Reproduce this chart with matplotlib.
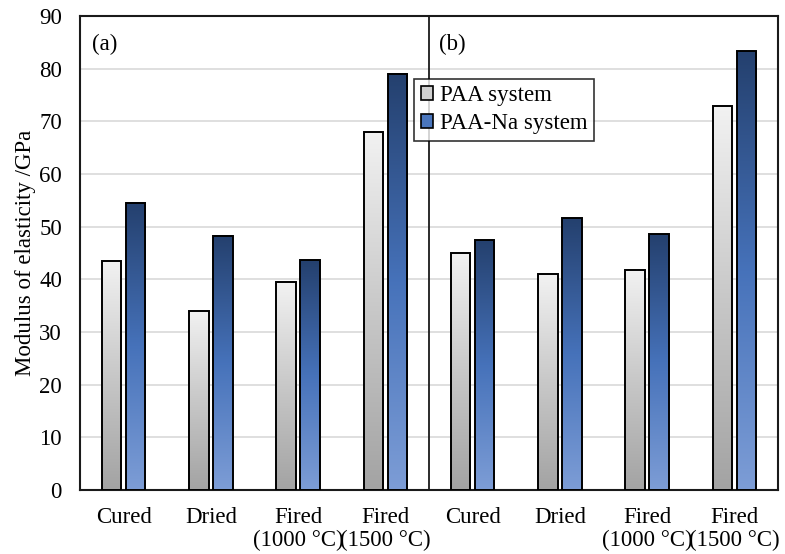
import matplotlib
matplotlib.use("Agg")
import matplotlib.pyplot as plt
import numpy as np
from matplotlib.colors import LinearSegmentedColormap
from matplotlib.patches import Patch

plt.rcParams['font.family'] = ['Liberation Serif', 'DejaVu Serif']

categories = ["Cured", "Dried", "Fired\n(1000 °C)", "Fired\n(1500 °C)",
              "Cured", "Dried", "Fired\n(1000 °C)", "Fired\n(1500 °C)"]
paa = [43.5, 34.0, 39.4, 68.0, 45.0, 41.0, 41.8, 72.9]
paa_na = [54.5, 48.3, 43.6, 79.0, 47.4, 51.6, 48.6, 83.3]
series_names = ["PAA system", "PAA-Na system"]
panel_labels = ["(a)", "(b)"]
yticks = [0, 10, 20, 30, 40, 50, 60, 70, 80, 90]

cmap_gray = LinearSegmentedColormap.from_list("g", ["#a3a3a3", "#c8c8c8", "#f2f2f2"])
cmap_blue = LinearSegmentedColormap.from_list("b", ["#7d9dd6", "#4672ba", "#24406e"])

FS = 16.5

fig = plt.figure(figsize=(7.85, 5.54), dpi=100)
ax = fig.add_axes([80/785, 64/554, 698/785, 474/554])

x = np.arange(len(categories))
bw = 0.225
off = 0.138
grad = np.linspace(0, 1, 256).reshape(-1, 1)

for vals, sign, cmap in [(paa, -1, cmap_gray), (paa_na, 1, cmap_blue)]:
    bars = ax.bar(x + sign * off, vals, width=bw, facecolor='none',
                  edgecolor='black', linewidth=1.4, zorder=4)
    for b in bars:
        x0 = b.get_x(); w = b.get_width(); h = b.get_height()
        ax.imshow(grad, extent=[x0, x0 + w, 0, h], origin='lower',
                  aspect='auto', cmap=cmap, zorder=3, interpolation='bilinear')

ax.set_xlim(-0.5, 7.5)
ax.set_ylim(0, 90)
ax.set_yticks(yticks)
ax.set_xticks(x)
ax.set_xticklabels(categories, fontsize=FS, linespacing=1.15)
ax.tick_params(axis='y', length=0, labelsize=FS, pad=13)
ax.tick_params(axis='x', length=0, labelsize=FS, pad=12)
ax.yaxis.grid(True, color='#d9d9d9', linewidth=1.2, zorder=0)
ax.set_axisbelow(True)
for s in ax.spines.values():
    s.set_linewidth(1.5)
    s.set_color('#1a1a1a')

ax.axvline(3.5, color='#1a1a1a', linewidth=1.3, zorder=2)
ax.set_ylabel("Modulus of elasticity /GPa", fontsize=FS, labelpad=2)

ax.text(0.017, 0.94, panel_labels[0], transform=ax.transAxes, fontsize=FS, va='center')
ax.text(0.514, 0.94, panel_labels[1], transform=ax.transAxes, fontsize=FS, va='center')

handles = [Patch(facecolor='#d0d0d0', edgecolor='black', linewidth=1.2),
           Patch(facecolor='#4a76bd', edgecolor='black', linewidth=1.2)]
leg = ax.legend(handles, series_names, loc='upper left', bbox_to_anchor=(0.478, 0.868),
                fontsize=FS, frameon=True, fancybox=False, handlelength=0.55,
                handleheight=0.55, handletextpad=0.3, borderpad=0.3, labelspacing=0.3,
                borderaxespad=0)
leg.get_frame().set_edgecolor('black')
leg.get_frame().set_linewidth(1.2)
leg.set_zorder(6)

fig.savefig("out.png", dpi=100)
